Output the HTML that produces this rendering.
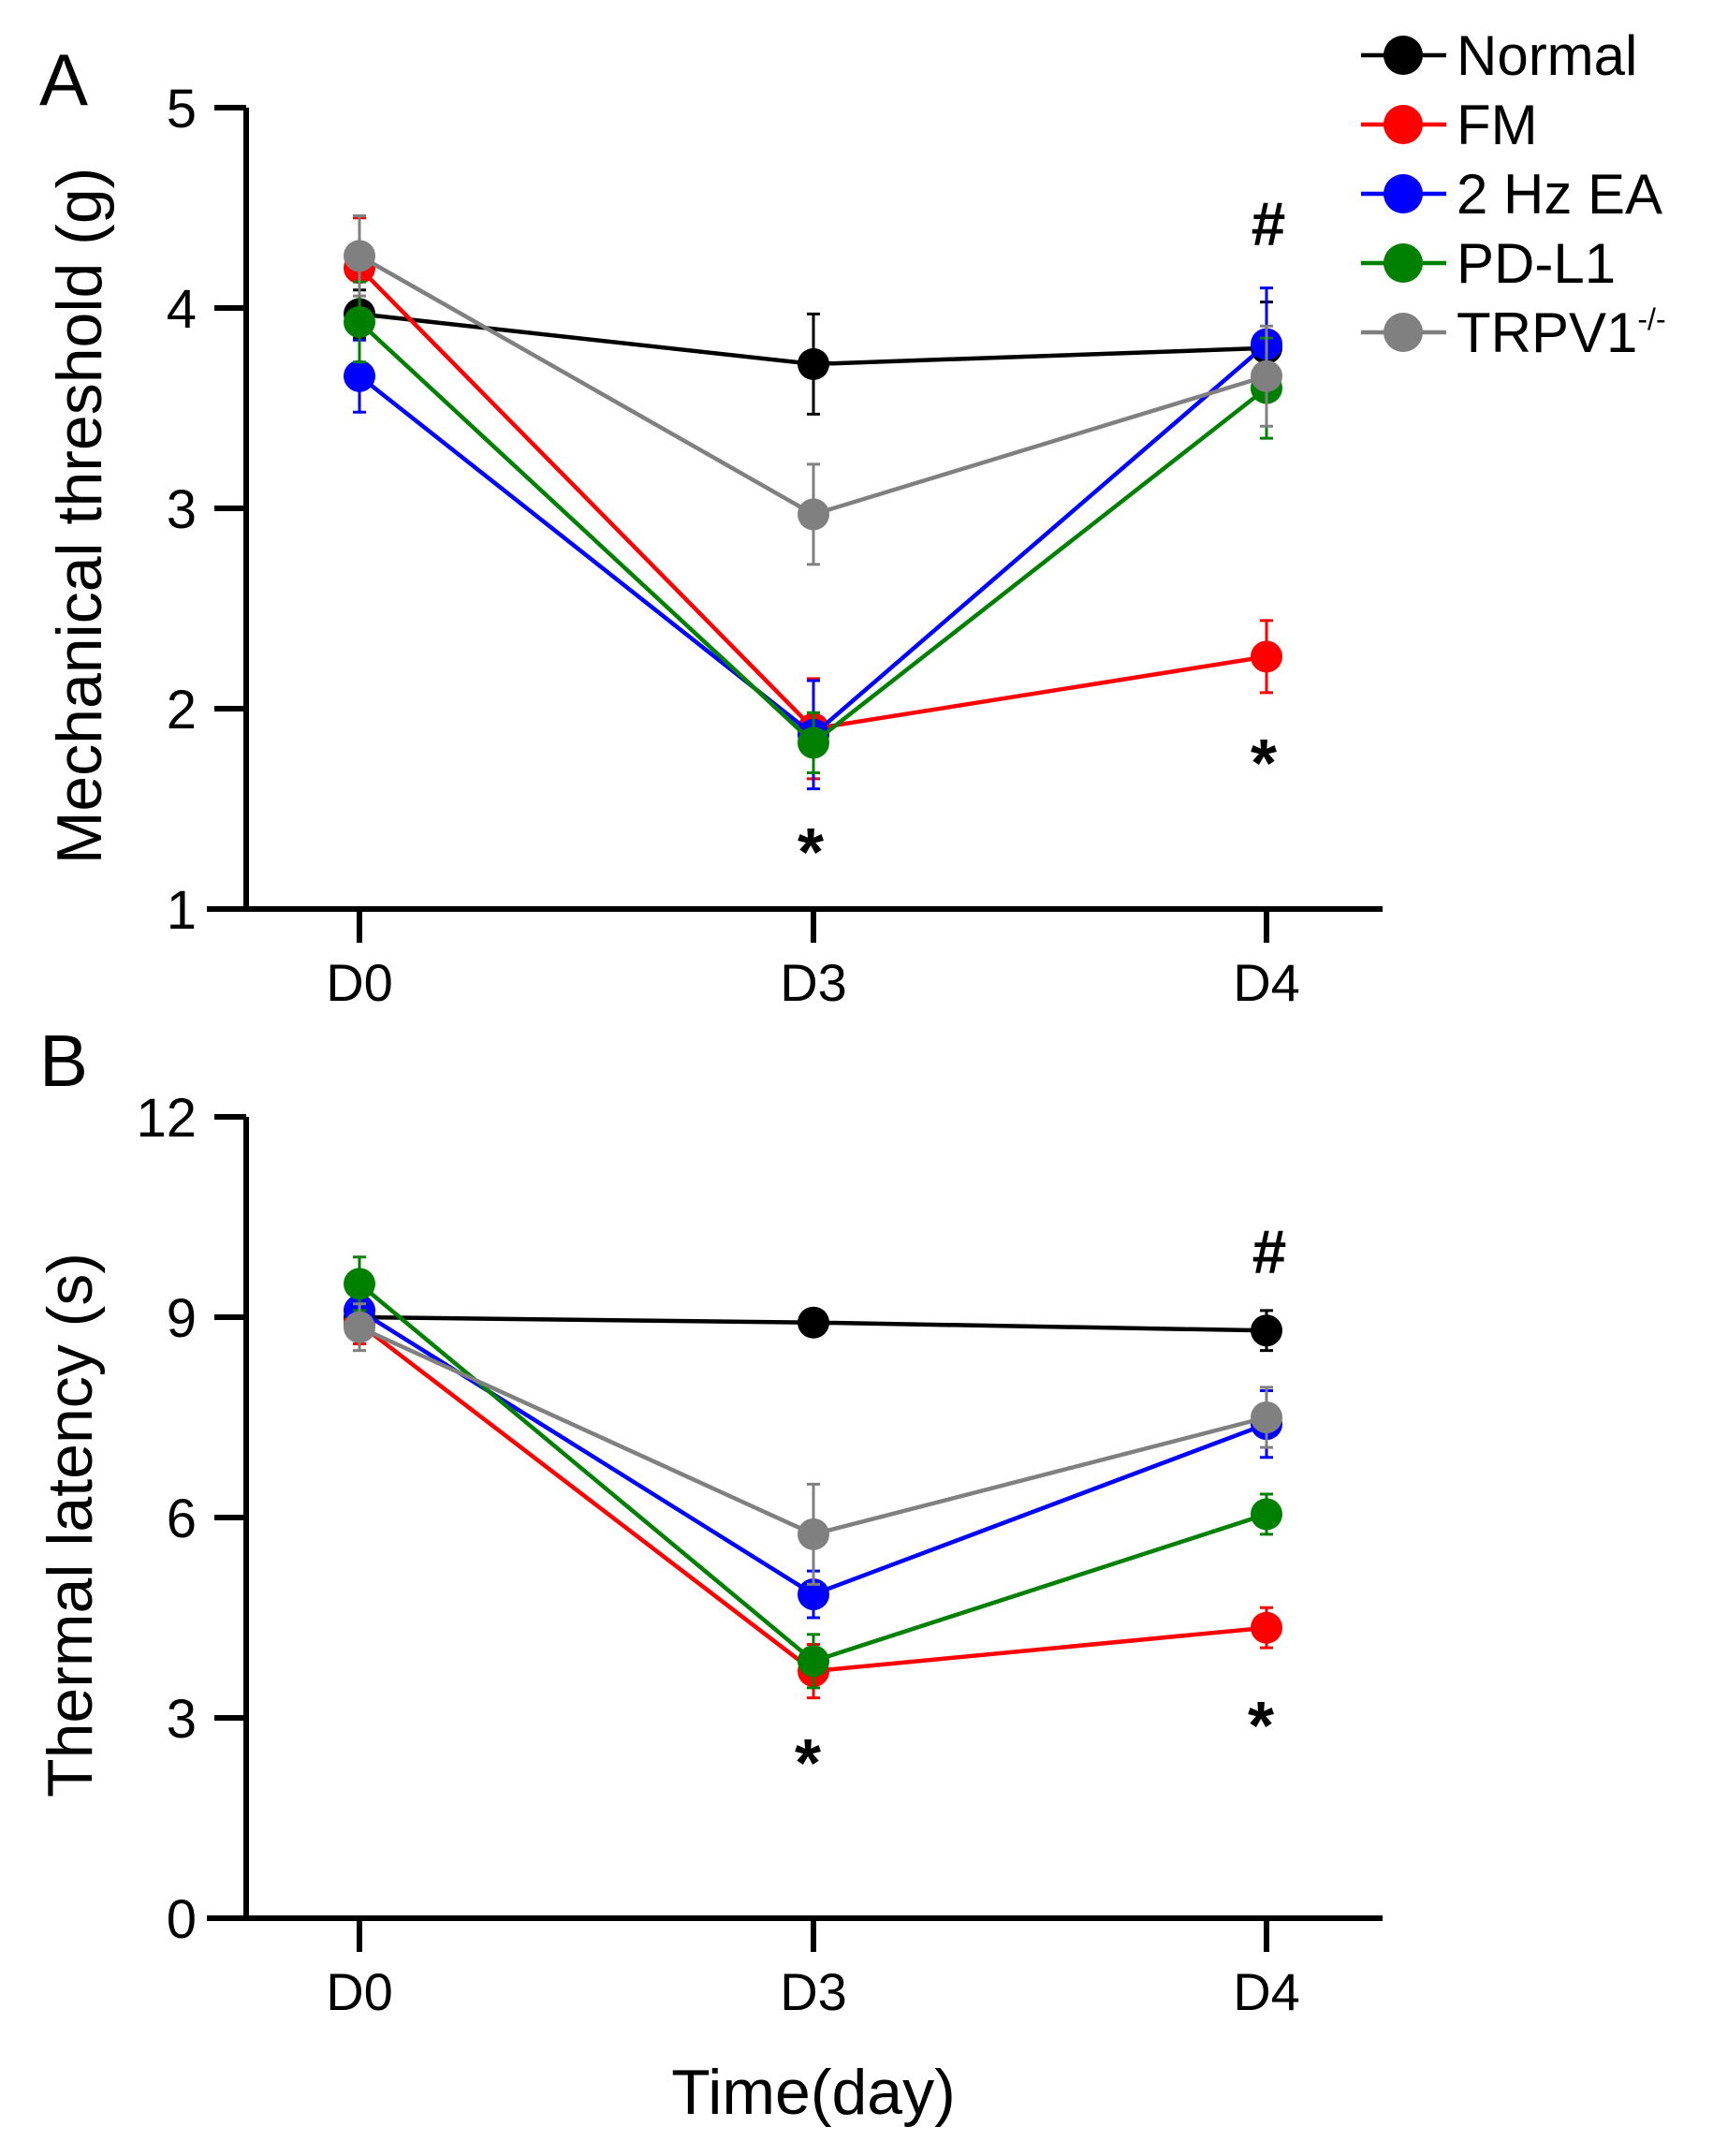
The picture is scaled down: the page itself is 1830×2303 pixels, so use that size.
<!DOCTYPE html>
<html><head><meta charset="utf-8"><style>
html,body{margin:0;padding:0;background:#fff;}
svg{display:block;font-family:"Liberation Sans",Arial,sans-serif;}
</style></head><body>
<svg id="chart" width="1830" height="2303" viewBox="0 0 1830 2303" xmlns="http://www.w3.org/2000/svg"></svg>
<script>
const categories = ["D0","D3","D4"];
const seriesNames = ["Normal","FM","2 Hz EA","PD-L1","TRPV1"];
const seriesColors = ["#000000","#ff0000","#0000ff","#008000","#808080"];
const ticksA = [1,2,3,4,5];
const ticksB = [0,3,6,9,12];
const meanA_Normal = [3.97,3.72,3.80];
const errA_Normal  = [0.12,0.25,0.23];
const meanA_FM     = [4.20,1.90,2.26];
const errA_FM      = [0.25,0.25,0.18];
const meanA_EA     = [3.66,1.87,3.82];
const errA_EA      = [0.18,0.27,0.28];
const meanA_PDL1   = [3.93,1.83,3.60];
const errA_PDL1    = [0.20,0.15,0.25];
const meanA_TRPV1  = [4.26,2.97,3.66];
const errA_TRPV1   = [0.20,0.25,0.25];
const meanB_Normal = [9.00,8.92,8.80];
const errB_Normal  = [0.20,0.10,0.30];
const meanB_FM     = [8.90,3.70,4.35];
const errB_FM      = [0.30,0.40,0.30];
const meanB_EA     = [9.10,4.85,7.40];
const errB_EA      = [0.40,0.35,0.50];
const meanB_PDL1   = [9.50,3.85,6.05];
const errB_PDL1    = [0.40,0.40,0.30];
const meanB_TRPV1  = [8.85,5.75,7.50];
const errB_TRPV1   = [0.35,0.75,0.45];

const NS="http://www.w3.org/2000/svg";
const svg=document.getElementById('chart');
function mk(tag,attrs,parent,text){const e=document.createElementNS(NS,tag);for(const k in attrs)e.setAttribute(k,attrs[k]);if(text!==undefined)e.textContent=text;(parent||svg).appendChild(e);return e;}
const xPos=[384,869,1353];
function xScale(i){return xPos[i];}

function panel(p){
  const g=mk('g',{});
  
  
  const y=v=>p.y0+(v-p.min)/(p.max-p.min)*(p.y1-p.y0);
  let a=mk('line',{x1:263,y1:y(p.max),x2:263,y2:p.y0+3,stroke:'#000','stroke-width':6},g);
  
  a=mk('line',{x1:221,y1:p.y0,x2:1477,y2:p.y0,stroke:'#000','stroke-width':6},g);
  
  p.ticks.forEach(t=>{
    const l=mk('line',{x1:229,y1:y(t),x2:263,y2:y(t),stroke:'#000','stroke-width':6},g);
    
    const tx=mk('text',{x:210,y:y(t)+21,'text-anchor':'end','font-size':58},g,String(t));
    
  });
  categories.forEach((c,i)=>{
    const l=mk('line',{x1:xScale(i),y1:p.y0,x2:xScale(i),y2:p.y0+36,stroke:'#000','stroke-width':6},g);
    
    const tx=mk('text',{x:xScale(i),y:p.y0+98,'text-anchor':'middle','font-size':56},g,c);
    
  });
  const yt=mk('text',{x:0,y:0,'text-anchor':'middle','font-size':68,transform:`translate(${p.titleX},${(y(p.max)+p.y0)/2+8}) rotate(-90)`},g,p.title);
  
  const lb=mk('text',{x:42,y:p.labelY,'font-size':78},g,p.label);
  
  p.means.forEach((m,s)=>{
    const sg=mk('g',{},g);
    
    
    const col=seriesColors[s];
    m.forEach((v,i)=>{
      const e=p.errs[s][i];
      const eb=mk('path',{d:`M${xScale(i)},${y(v+e)}V${y(v-e)}M${xScale(i)-7},${y(v+e)}h14M${xScale(i)-7},${y(v-e)}h14`,stroke:col,'stroke-width':3,fill:'none'},sg);
      
    });
    const pl=mk('polyline',{points:m.map((v,i)=>xScale(i)+','+y(v)).join(' '),stroke:col,'stroke-width':4.5,fill:'none'},sg);
    
    m.forEach((v,i)=>{
      const c=mk('circle',{cx:xScale(i),cy:y(v),r:17,fill:col},sg);
      
    });
  });
  p.annots.forEach(an=>{
    const t=mk('text',{x:an[0],y:an[1],'text-anchor':'middle','font-size':an[3],'font-weight':'bold'},g,an[2]);
    
  });
}
panel({name:'panel-a',y0:971,y1:115,min:1,max:5,ticks:ticksA,title:'Mechanical threshold (g)',titleX:108,label:'A',labelY:112,
  means:[meanA_Normal,meanA_FM,meanA_EA,meanA_PDL1,meanA_TRPV1],errs:[errA_Normal,errA_FM,errA_EA,errA_PDL1,errA_TRPV1],
  annots:[[866,935,'*',72],[1350,840,'*',72],[1355,262,'#',66]]});
panel({name:'panel-b',y0:2049,y1:1193,min:0,max:12,ticks:ticksB,title:'Thermal latency (s)',titleX:98,label:'B',labelY:1160,
  means:[meanB_Normal,meanB_FM,meanB_EA,meanB_PDL1,meanB_TRPV1],errs:[errB_Normal,errB_FM,errB_EA,errB_PDL1,errB_TRPV1],
  annots:[[863,1908,'*',72],[1347,1868,'*',72],[1356,1360,'#',66]]});
const xt=mk('text',{x:869,y:2258,'text-anchor':'middle','font-size':68},svg,'Time(day)');


const lg=mk('g',{});


seriesNames.forEach((n,s)=>{
  const yy=59+s*74;
  const eg=mk('g',{},lg);
  
  
  mk('line',{x1:1454,y1:yy,x2:1545,y2:yy,stroke:seriesColors[s],'stroke-width':4.5},eg);
  mk('circle',{cx:1499,cy:yy,r:21,fill:seriesColors[s]},eg);
  const t=mk('text',{x:1556,y:yy+21,'font-size':60},eg,n);
  if(n==='TRPV1'){mk('tspan',{'font-size':32,dy:-24},t,'-/-');}
});
</script>
</body></html>
